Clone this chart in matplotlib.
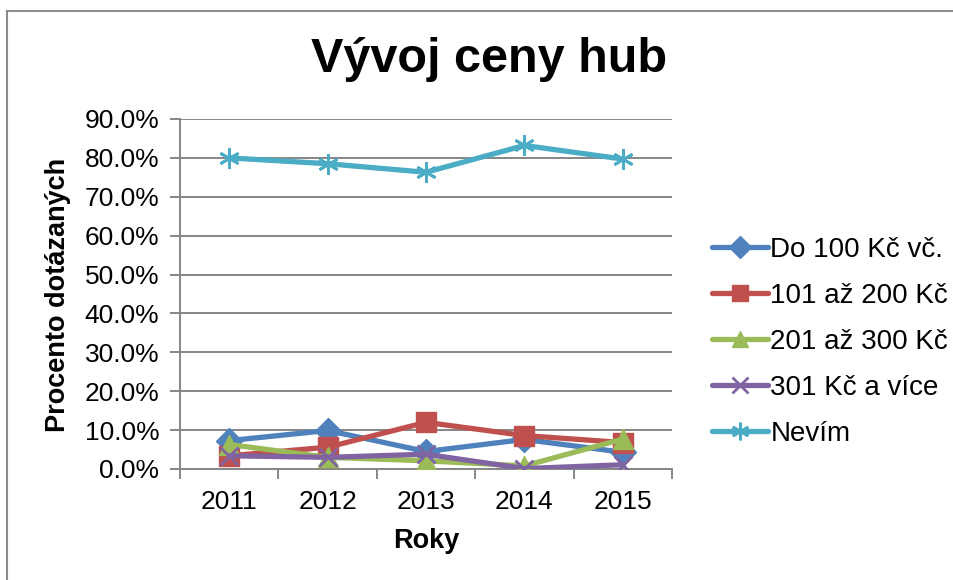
import matplotlib
matplotlib.use("Agg")
import matplotlib.pyplot as plt
from matplotlib.ticker import PercentFormatter, FixedLocator
from matplotlib.lines import Line2D

plt.rcParams['font.family'] = ['Liberation Sans', 'DejaVu Sans']

# data
roky = ['2011', '2012', '2013', '2014', '2015']
do_100 = [7.3, 9.9, 4.5, 7.6, 4.3]
od_101_200 = [3.4, 5.6, 12.0, 8.6, 6.8]
od_201_300 = [6.3, 3.0, 2.1, 0.8, 7.7]
od_301 = [3.4, 3.0, 3.8, 0.1, 1.1]
nevim = [80.0, 78.5, 76.3, 83.2, 79.7]

serie = [
    ('Do 100 Kč vč.', do_100, '#4F81BD', 'D', 13),
    ('101 až 200 Kč', od_101_200, '#C0504D', 's', 14),
    ('201 až 300 Kč', od_201_300, '#9BBB59', '^', 14),
    ('301 Kč a více', od_301, '#8064A2', 'x', 13),
    ('Nevím', nevim, '#4BACC6', (6, 2, 0), 15),
]

fig = plt.figure(figsize=(9.54, 5.8), dpi=100)
ax = fig.add_axes([180/954, 1-469/580, (672-180)/954, (469-119)/580])

x = range(len(roky))
for name, vals, col, mk, ms in serie:
    ax.plot(x, vals, color=col, lw=3.8, marker=mk, markersize=ms,
            markerfacecolor=col, markeredgecolor=col, markeredgewidth=2.0 if mk in ('x', (6, 2, 0)) else 1,
            label=name, solid_capstyle='round', zorder=3)

grid_c = '#868686'
ax.set_xlim(-0.5, 4.5)
ax.set_ylim(0, 90)
ax.set_yticks(range(0, 91, 10))
ax.yaxis.set_major_formatter(PercentFormatter(decimals=1))
ax.yaxis.grid(True, color=grid_c, lw=1.4)
ax.set_axisbelow(True)
ax.set_xticks(list(x))
ax.set_xticklabels(roky)
ax.xaxis.set_minor_locator(FixedLocator([-0.5, 0.5, 1.5, 2.5, 3.5, 4.5]))
ax.tick_params(axis='x', which='major', length=0, pad=15, labelsize=19)
ax.tick_params(axis='x', which='minor', length=7, width=1.4, color=grid_c)
ax.tick_params(axis='y', length=7, width=1.4, color=grid_c, pad=8, labelsize=19)
for s in ['top', 'right']:
    ax.spines[s].set_visible(False)
for s in ['left', 'bottom']:
    ax.spines[s].set_color(grid_c)
    ax.spines[s].set_linewidth(1.4)

fig.text(489/954, 1-60/580, 'Vývoj ceny hub', fontsize=35, fontweight='bold',
         ha='center', va='center')
fig.text(58/954, 1-295/580, 'Procento dotázaných', fontsize=19.5, fontweight='bold',
         rotation=90, ha='center', va='center')
fig.text(426/954, 1-541/580, 'Roky', fontsize=19.5, fontweight='bold',
         ha='center', va='center')

ax.legend(loc='center left', bbox_to_anchor=(701/954, 1-342/580),
          bbox_transform=fig.transFigure, frameon=False, fontsize=20,
          handlelength=2.0, handletextpad=0.1, labelspacing=0.72, borderaxespad=0,
          markerscale=0.85)

# outer chart border (top and left only visible)
fig.add_artist(Line2D([7/954, 7/954], [0, 1-11/580], color='#8c8c8c', lw=1.5,
                      transform=fig.transFigure))
fig.add_artist(Line2D([7/954, 1], [1-11/580, 1-11/580], color='#8c8c8c', lw=1.5,
                      transform=fig.transFigure))

fig.savefig('out.png', dpi=100)
